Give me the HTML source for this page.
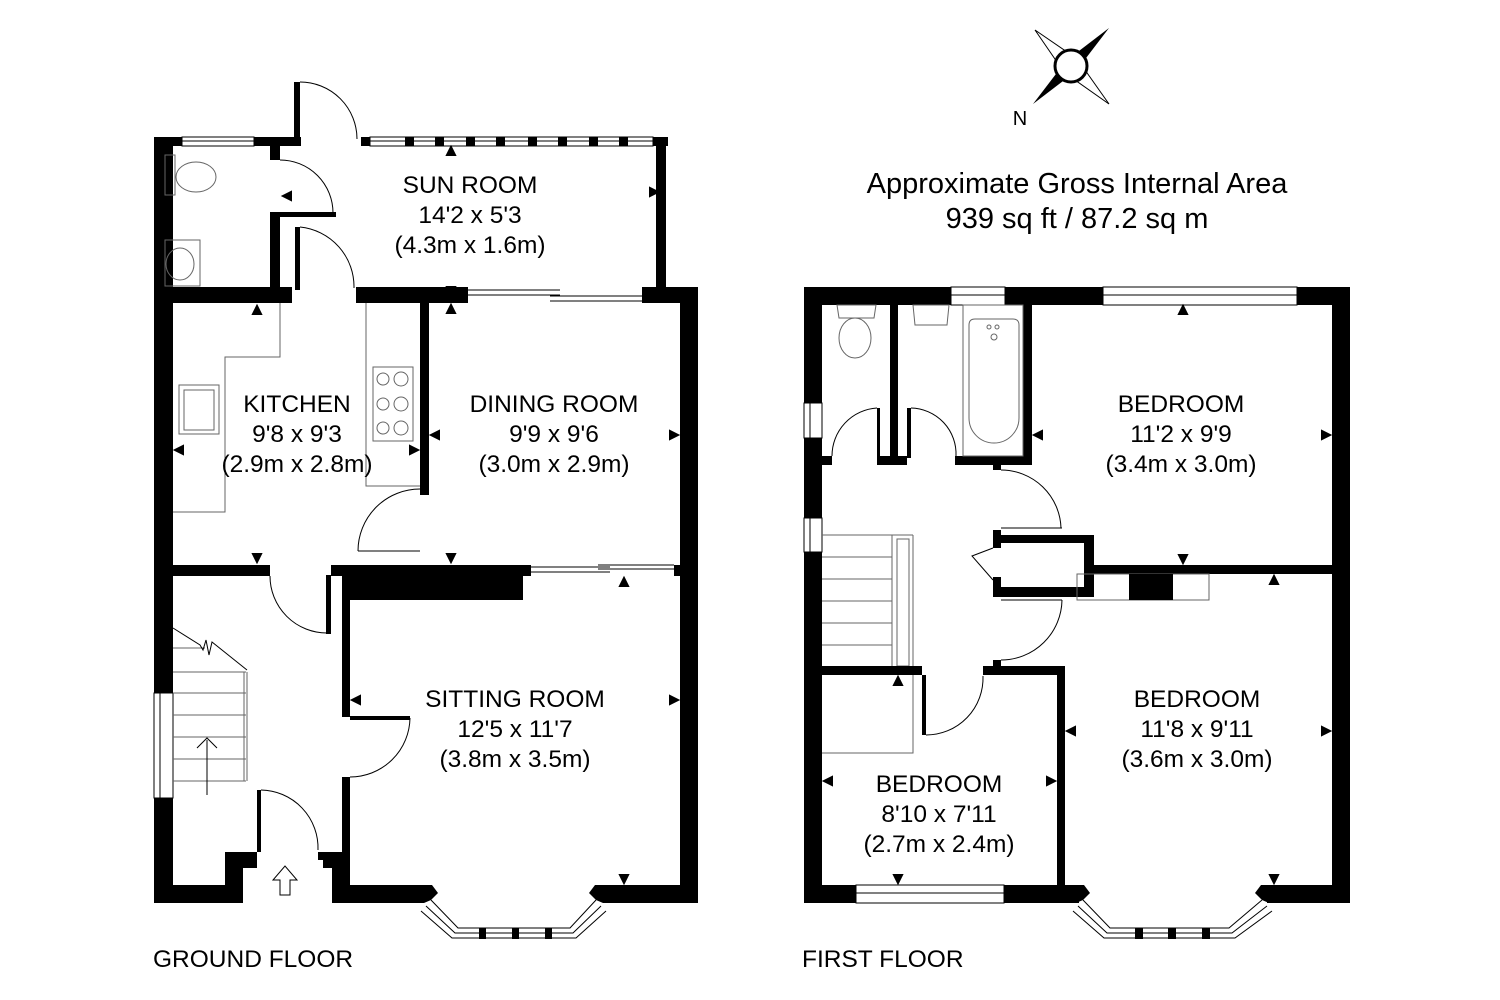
<!DOCTYPE html>
<html><head><meta charset="utf-8"><style>
html,body{margin:0;padding:0;background:#fff;width:1500px;height:1000px;overflow:hidden}
svg{display:block}
text{font-family:"Liberation Sans",Arial,sans-serif;fill:#000}
.t{font-size:24.5px;text-anchor:middle}
.w{fill:#000}
.a polygon{stroke:#000;stroke-width:2;stroke-linejoin:miter}
.l{fill:none;stroke:#000;stroke-width:1}
.g{fill:none;stroke:#666;stroke-width:1}
.win{fill:#fff;stroke:#000;stroke-width:1}
</style></head><body>
<svg width="1500" height="1000" viewBox="0 0 1500 1000" xmlns="http://www.w3.org/2000/svg">
<!-- ================= GROUND FLOOR ================= -->
<rect class="w" x="154" y="137" width="19" height="766"/>
<rect class="win" x="154" y="693" width="19" height="105"/>
<line class="l" x1="160" y1="693" x2="160" y2="798"/>
<rect class="w" x="154" y="137" width="147" height="9"/>
<rect class="win" x="182" y="137" width="72" height="9"/>
<line class="l" x1="182" y1="141" x2="254" y2="141"/>
<rect class="w" x="294" y="82" width="6" height="63"/>
<path class="l" d="M300 82 A57 57 0 0 1 357 139"/>
<rect class="w" x="361" y="137" width="307" height="9"/>
<rect class="win" x="370" y="137" width="283" height="9"/>
<line class="l" x1="370" y1="141" x2="653" y2="141"/>
<g class="w">
<rect x="405" y="137" width="9" height="9"/><rect x="435" y="137" width="9" height="9"/>
<rect x="466" y="137" width="9" height="9"/><rect x="496" y="137" width="9" height="9"/>
<rect x="528" y="137" width="9" height="9"/><rect x="558" y="137" width="9" height="9"/>
<rect x="589" y="137" width="9" height="9"/><rect x="619" y="137" width="9" height="9"/>
</g>
<rect class="w" x="656" y="137" width="10" height="160"/>
<rect class="w" x="270" y="146" width="10" height="14"/>
<rect class="w" x="270" y="213" width="10" height="80"/>
<rect class="w" x="270" y="212" width="66" height="5"/>
<path class="l" d="M280 160 A53 53 0 0 1 333 213"/>
<path class="g" d="M165 155 L175 155 L175 195 L165 195 Z"/>
<ellipse class="g" cx="196" cy="177" rx="20" ry="15"/>
<rect class="g" x="165" y="240" width="35" height="46"/>
<ellipse class="g" cx="180" cy="264" rx="14" ry="16"/>
<rect class="w" x="295" y="227" width="5" height="63"/>
<path class="l" d="M300 227 A60 60 0 0 1 354 288"/>
<rect class="w" x="154" y="287" width="138" height="16"/>
<rect class="w" x="356" y="287" width="112" height="16"/>
<line class="l" x1="468" y1="290" x2="560" y2="290"/>
<line class="l" x1="468" y1="295" x2="560" y2="295"/>
<line class="l" x1="550" y1="296" x2="642" y2="296"/>
<line class="l" x1="550" y1="301" x2="642" y2="301"/>
<rect class="w" x="642" y="287" width="56" height="16"/>
<rect class="w" x="680" y="287" width="18" height="616"/>
<rect class="w" x="420" y="303" width="9" height="192"/>
<polyline class="g" points="173,512 225,512 225,357 280,357 280,303"/>
<polyline class="g" points="366,303 366,486 420,486"/>
<rect class="g" x="373" y="367" width="40" height="74"/>
<g class="g"><circle cx="383" cy="379" r="6"/><circle cx="401" cy="379" r="7"/><circle cx="383" cy="404" r="6"/><circle cx="401" cy="404" r="7"/><circle cx="383" cy="428" r="6"/><circle cx="401" cy="428" r="7"/></g>
<rect class="g" x="179" y="385" width="40" height="49"/>
<rect class="g" x="184" y="390" width="30" height="40"/>
<line class="l" x1="358" y1="551" x2="420" y2="551"/>
<path class="l" d="M358 551 A62 62 0 0 1 420 489"/>
<rect class="w" x="154" y="565" width="116" height="11"/>
<rect class="w" x="331" y="565" width="200" height="11"/>
<rect class="w" x="342" y="565" width="181" height="35"/>
<line class="l" x1="531" y1="567" x2="610" y2="567"/>
<line class="l" x1="531" y1="572" x2="610" y2="572"/>
<line class="l" x1="598" y1="565" x2="674" y2="565"/>
<line class="l" x1="598" y1="569" x2="674" y2="569"/>
<rect class="w" x="674" y="565" width="24" height="11"/>
<rect class="w" x="326" y="575" width="5" height="59"/>
<path class="l" d="M270 576 A57 57 0 0 0 327 633"/>
<rect class="w" x="342" y="600" width="8" height="117"/>
<rect class="w" x="350" y="716" width="60" height="4"/>
<path class="l" d="M410 718 A60 60 0 0 1 350 777"/>
<rect class="w" x="342" y="777" width="8" height="126"/>
<g class="g">
<line x1="173" y1="648" x2="205" y2="648"/>
<line x1="173" y1="672" x2="246" y2="672"/>
<line x1="173" y1="693" x2="246" y2="693"/>
<line x1="173" y1="715" x2="246" y2="715"/>
<line x1="173" y1="737" x2="246" y2="737"/>
<line x1="173" y1="759" x2="246" y2="759"/>
<line x1="173" y1="781" x2="246" y2="781"/>
<line x1="244" y1="672" x2="244" y2="781"/>
<line x1="247" y1="672" x2="247" y2="781"/>
</g>
<polyline class="l" points="173,628 200,645 203,650 206,640 209,655 212,642 247,670"/>
<line class="l" x1="207" y1="795" x2="207" y2="740"/>
<polyline class="l" points="197,748 207,738 217,748" stroke-width="1.5"/>
<polygon class="w" points="154,903 243,903 243,868 257,868 257,852 225,852 225,885 173,885 173,880 154,880"/>
<rect class="w" x="257" y="790" width="4" height="62"/>
<path class="l" d="M261 790 A58 58 0 0 1 318 850"/>
<polygon class="w" points="318,852 342,852 342,903 332,903 332,868 323,868 323,860 318,860"/>
<polygon class="l" points="280,895 290,895 290,880 297,880 285,866 273,880 280,880"/>
<rect class="w" x="342" y="885" width="82" height="18"/>
<rect class="w" x="603" y="885" width="95" height="18"/>
<polygon class="w" points="424,885 432,885 438,893 431,900 424,903"/>
<polygon class="w" points="603,885 595,885 589,893 596,900 603,903"/>
<g class="l">
<polyline points="431,900 458,928 570,928 596,900"/>
<polyline points="426,906 455,933 573,933 601,906"/>
<polyline points="421,911 452,938 576,938 606,911"/>
</g>
<g class="w"><rect x="479" y="928" width="7" height="11"/><rect x="512" y="928" width="7" height="11"/><rect x="545" y="928" width="7" height="11"/></g>
<g class="w a">
<polygon points="451,147 455,155 447,155"/>
<polygon points="451,295 455,287 447,287"/>
<polygon points="451,305 455,313 447,313"/>
<polygon points="283,196 291,192 291,200"/>
<polygon points="658,192 650,188 650,196"/>
<polygon points="257,306 261,314 253,314"/>
<polygon points="175,450 183,446 183,454"/>
<polygon points="418,450 410,446 410,454"/>
<polygon points="431,435 439,431 439,439"/>
<polygon points="678,435 670,431 670,439"/>
<polygon points="257,562 261,554 253,554"/>
<polygon points="451,562 455,554 447,554"/>
<polygon points="624,578 628,586 620,586"/>
<polygon points="352,700 360,696 360,704"/>
<polygon points="678,700 670,696 670,704"/>
<polygon points="624,883 628,875 620,875"/>
</g>
<!-- ================= FIRST FLOOR ================= -->
<rect class="w" x="804" y="287" width="18" height="616"/>
<rect class="win" x="804" y="403" width="18" height="35"/>
<line class="l" x1="810" y1="403" x2="810" y2="438"/>
<rect class="win" x="804" y="518" width="18" height="34"/>
<line class="l" x1="810" y1="518" x2="810" y2="552"/>
<rect class="w" x="804" y="287" width="546" height="18"/>
<rect class="win" x="951" y="287" width="54" height="18"/>
<line class="l" x1="951" y1="295" x2="1005" y2="295"/>
<rect class="win" x="1103" y="287" width="194" height="18"/>
<line class="l" x1="1103" y1="295" x2="1297" y2="295"/>
<rect class="w" x="1332" y="287" width="18" height="616"/>
<rect class="w" x="890" y="304" width="8" height="161"/>
<rect class="w" x="822" y="456" width="10" height="9"/>
<rect class="w" x="877" y="456" width="30" height="9"/>
<rect class="w" x="877" y="408" width="3" height="50"/>
<rect class="w" x="907" y="408" width="4" height="50"/>
<path class="l" d="M877 408 A48 48 0 0 0 832 456"/>
<path class="l" d="M911 408 A46 46 0 0 1 956 456"/>
<rect class="w" x="1023" y="304" width="9" height="161"/>
<rect class="w" x="955" y="456" width="77" height="9"/>
<rect class="g" x="963" y="305" width="60" height="151"/>
<path class="g" d="M969 325 Q969 319 975 319 L1013 319 Q1019 319 1019 325 L1019 418 A25 25 0 0 1 969 418 Z"/>
<circle class="g" cx="989" cy="327" r="2"/><circle class="g" cx="997" cy="327" r="2"/><circle class="g" cx="994" cy="337" r="3"/>
<path class="g" d="M913 305 L949 305 L947 325 L915 325 Z"/>
<path class="g" d="M837 305 L876 305 L874 318 L839 318 Z"/>
<ellipse class="g" cx="855" cy="338" rx="16" ry="20"/>
<rect class="w" x="993" y="465" width="8" height="5"/>
<path class="l" d="M1001 470 A60 60 0 0 1 1061 528"/>
<line class="l" x1="1001" y1="528" x2="1062" y2="528"/>
<rect class="w" x="993" y="530" width="8" height="18"/>
<rect class="w" x="997" y="535" width="97" height="8"/>
<rect class="w" x="1084" y="535" width="10" height="62"/>
<rect class="w" x="993" y="587" width="101" height="10"/>
<rect class="w" x="993" y="577" width="8" height="12"/>
<polyline class="l" points="993,548 972,556 993,580" stroke-width="2"/>
<line class="l" x1="1001" y1="600" x2="1062" y2="600"/>
<path class="l" d="M1062 600 A61 61 0 0 1 1001 660"/>
<rect class="w" x="993" y="660" width="8" height="6"/>
<rect class="w" x="1094" y="565" width="238" height="9"/>
<rect class="g" x="1077" y="574" width="132" height="26"/>
<rect class="w" x="1129" y="574" width="44" height="26"/>
<g class="g">
<line x1="822" y1="535" x2="913" y2="535"/>
<line x1="822" y1="557" x2="892" y2="557"/>
<line x1="822" y1="579" x2="892" y2="579"/>
<line x1="822" y1="601" x2="892" y2="601"/>
<line x1="822" y1="623" x2="892" y2="623"/>
<line x1="822" y1="645" x2="892" y2="645"/>
<line x1="892" y1="535" x2="892" y2="666"/>
<line x1="913" y1="535" x2="913" y2="753"/>
<rect x="897" y="539" width="12" height="127"/>
</g>
<rect class="w" x="822" y="666" width="100" height="9"/>
<rect class="w" x="922" y="675" width="4" height="60"/>
<path class="l" d="M983 676 A57 57 0 0 1 926 735"/>
<rect class="w" x="983" y="666" width="82" height="9"/>
<rect class="w" x="1057" y="666" width="8" height="237"/>
<polyline class="g" points="822,753 913,753 913,675"/>
<rect class="w" x="804" y="885" width="261" height="18"/>
<rect class="win" x="856" y="885" width="148" height="18"/>
<line class="l" x1="856" y1="893" x2="1004" y2="893"/>
<rect class="w" x="1057" y="885" width="22" height="18"/>
<rect class="w" x="1267" y="885" width="83" height="18"/>
<polygon class="w" points="1076,885 1084,885 1090,893 1083,900 1076,903"/>
<polygon class="w" points="1269,885 1261,885 1255,893 1262,900 1269,903"/>
<g class="l">
<polyline points="1083,900 1110,928 1229,928 1262,900"/>
<polyline points="1078,906 1107,933 1232,933 1267,906"/>
<polyline points="1073,911 1104,938 1235,938 1272,911"/>
</g>
<g class="w"><rect x="1135" y="928" width="8" height="11"/><rect x="1168" y="928" width="8" height="11"/><rect x="1202" y="928" width="8" height="11"/></g>
<g class="w a">
<polygon points="1183,306 1187,314 1179,314"/>
<polygon points="1034,435 1042,431 1042,439"/>
<polygon points="1330,435 1322,431 1322,439"/>
<polygon points="1183,563 1187,555 1179,555"/>
<polygon points="1274,576 1278,584 1270,584"/>
<polygon points="898,677 902,685 894,685"/>
<polygon points="1067,731 1075,727 1075,735"/>
<polygon points="1330,731 1322,727 1322,735"/>
<polygon points="824,781 832,777 832,785"/>
<polygon points="1055,781 1047,777 1047,785"/>
<polygon points="898,883 902,875 894,875"/>
<polygon points="1274,883 1278,875 1270,875"/>
</g>
<g transform="translate(1071,66)">
<polygon class="w" points="-36,-36 -4,-12 -12,-4"/>
<polygon class="w" points="38,38 4,12 12,4"/>
<polygon class="w" points="38,-38 12,-4 4,-12"/>
<polygon class="w" points="-38,38 -4,12 -12,4"/>
<polygon fill="#fff" stroke="#000" points="-36,-36 -14,-4 -4,-14"/>
<polygon fill="#fff" stroke="#000" points="38,38 14,4 4,14"/>
<circle r="16" fill="#fff" stroke="#000" stroke-width="3"/>
</g>
<text x="1020" y="125" style="font-size:20px" text-anchor="middle">N</text>
<g class="t">
<text x="470" y="193">SUN ROOM</text><text x="470" y="223">14'2 x 5'3</text><text x="470" y="253">(4.3m x 1.6m)</text>
<text x="297" y="412">KITCHEN</text><text x="297" y="442">9'8 x 9'3</text><text x="297" y="472">(2.9m x 2.8m)</text>
<text x="554" y="412">DINING ROOM</text><text x="554" y="442">9'9 x 9'6</text><text x="554" y="472">(3.0m x 2.9m)</text>
<text x="515" y="707">SITTING ROOM</text><text x="515" y="737">12'5 x 11'7</text><text x="515" y="767">(3.8m x 3.5m)</text>
<text x="1181" y="412">BEDROOM</text><text x="1181" y="442">11'2 x 9'9</text><text x="1181" y="472">(3.4m x 3.0m)</text>
<text x="1197" y="707">BEDROOM</text><text x="1197" y="737">11'8 x 9'11</text><text x="1197" y="767">(3.6m x 3.0m)</text>
<text x="939" y="792">BEDROOM</text><text x="939" y="822">8'10 x 7'11</text><text x="939" y="852">(2.7m x 2.4m)</text>
</g>
<text x="1077" y="193" style="font-size:29px" text-anchor="middle">Approximate Gross Internal Area</text>
<text x="1077" y="228" style="font-size:29px" text-anchor="middle">939 sq ft / 87.2 sq m</text>
<text x="153" y="967" style="font-size:24.5px">GROUND FLOOR</text>
<text x="802" y="967" style="font-size:24.5px">FIRST FLOOR</text>
</svg>
</body></html>
